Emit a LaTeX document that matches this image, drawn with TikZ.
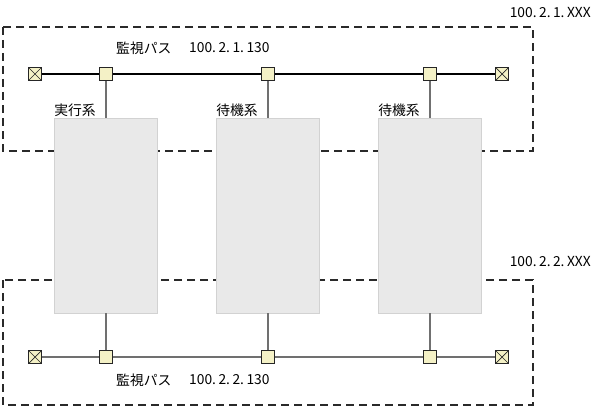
\documentclass[tikz,border=0pt]{standalone}
\usepackage{fontspec}
\setmainfont{Noto Sans CJK JP}
\usetikzlibrary{positioning}
\definecolor{portfill}{HTML}{F4F1C6}
\definecolor{boxfill}{HTML}{E9E9E9}
\definecolor{boxline}{HTML}{D2D2D2}
\definecolor{dropline}{HTML}{707070}
\definecolor{zoneline}{HTML}{2A2A2A}
\newcommand{\dt}{.\hspace{2.5pt}}

\begin{document}
\begin{tikzpicture}[x=1pt,y=-1pt,
  every node/.style={font=\fontsize{13.8}{15}\selectfont,inner sep=0pt},
  port/.style={draw=black!85,fill=portfill,minimum size=12.5pt,line width=0.9pt},
  term/.style={port,path picture={
    \draw[line width=0.7pt] (path picture bounding box.south west) -- (path picture bounding box.north east)
      (path picture bounding box.north west) -- (path picture bounding box.south east);}},
  sysbox/.style={draw=boxline,fill=boxfill,minimum width=103pt,minimum height=195pt,line width=0.8pt},
  bus/.style={line width=1.1pt},
  drop/.style={line width=1.5pt,dropline},
  zone/.style={line width=1.2pt,zoneline,dash pattern=on 8pt off 5pt}
]
\useasboundingbox (0,0) rectangle (593,409);

% monitored zones
\draw[zone] (3,27) rectangle (533,151);
\draw[zone] (3,280) rectangle (533,405);

% systems
\node[sysbox] (sysA) at (106,215.5) {};
\node[sysbox] (sysB) at (268,215.5) {};
\node[sysbox] (sysC) at (430,215.5) {};
\node[anchor=south west] (lblA) at ([yshift=1pt]sysA.north west) {実行系};
\node[anchor=south west] (lblB) at ([yshift=1pt]sysB.north west) {待機系};
\node[anchor=south west] (lblC) at ([yshift=1pt]sysC.north west) {待機系};

% upper path
\node[term] (upL) at (35,74) {};
\node[port] (upA) at (106,74) {};
\node[port] (upB) at (268,74) {};
\node[port] (upC) at (430,74) {};
\node[term] (upR) at (502,74) {};
\draw[bus] (upL) -- (upA) -- (upB) -- (upC) -- (upR);
\draw[drop] (upA) -- (sysA);
\draw[drop] (upB) -- (sysB);
\draw[drop] (upC) -- (sysC);
\node[anchor=west] (upName) at (116,48) {監視パス};
\node[anchor=west] (upAddr) at (189,48) {100\dt2\dt1\dt130};
\node[anchor=east] (upNet) at (591,13) {100\dt2\dt1\dt XXX};

% lower path
\node[term] (loL) at (35,357) {};
\node[port] (loA) at (106,357) {};
\node[port] (loB) at (268,357) {};
\node[port] (loC) at (430,357) {};
\node[term] (loR) at (502,357) {};
\draw[bus,dropline] (loL) -- (loA) -- (loB) -- (loC) -- (loR);
\draw[drop] (sysA) -- (loA);
\draw[drop] (sysB) -- (loB);
\draw[drop] (sysC) -- (loC);
\node[anchor=west] (loName) at (116,380) {監視パス};
\node[anchor=west] (loAddr) at (189,380) {100\dt2\dt2\dt130};
\node[anchor=east] (loNet) at (591,262) {100\dt2\dt2\dt XXX};
\end{tikzpicture}
\end{document}
